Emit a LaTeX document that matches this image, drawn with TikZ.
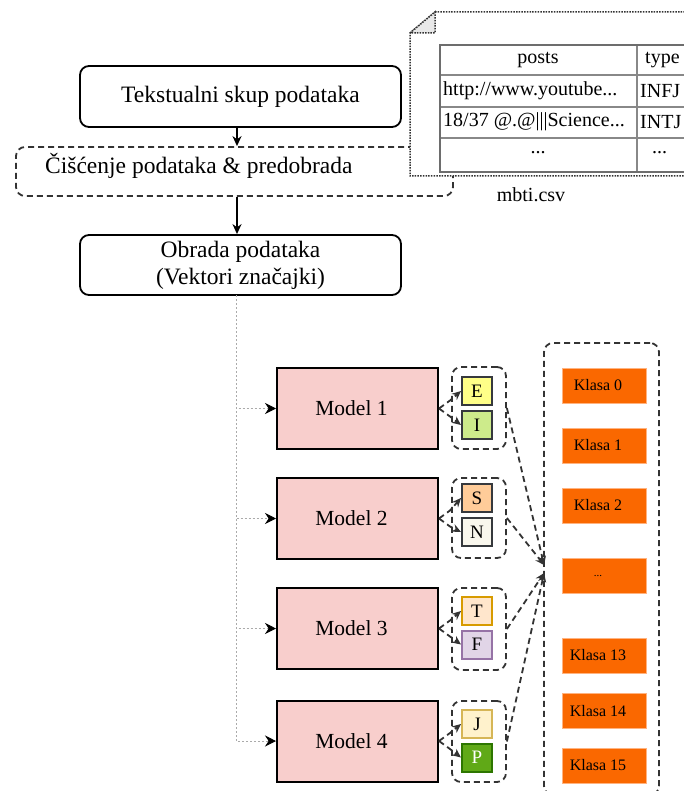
\documentclass[tikz,border=0pt]{standalone}
\usepackage{fontspec}
\setmainfont{Liberation Serif}
\usetikzlibrary{arrows.meta,calc}
\definecolor{modelfill}{HTML}{F8CECC}
\definecolor{dgray}{HTML}{333333}
\definecolor{lgray}{HTML}{AAAAAA}
\definecolor{tblline}{HTML}{888888}
\definecolor{foldgray}{HTML}{E8E8E8}
\definecolor{klasafill}{HTML}{FA6800}
\definecolor{klasaline}{HTML}{FFB380}
\definecolor{cEf}{HTML}{FFFF88}\definecolor{cIf}{HTML}{CDEB8B}
\definecolor{cSf}{HTML}{FFCC99}\definecolor{cNf}{HTML}{F9F7ED}
\definecolor{cTf}{HTML}{FFE6CC}\definecolor{cTd}{HTML}{D79B00}
\definecolor{cFf}{HTML}{E1D5E7}\definecolor{cFd}{HTML}{9673A6}
\definecolor{cJf}{HTML}{FFF2CC}\definecolor{cJd}{HTML}{D6B656}
\definecolor{cPf}{HTML}{60A917}\definecolor{cPd}{HTML}{2D7600}
\definecolor{cdark}{HTML}{36393D}
\begin{document}
\begin{tikzpicture}[x=1pt,y=-1pt,
  topbox/.style={draw, line width=1.8pt, rounded corners=9pt, fill=white, minimum width=321pt, minimum height=61pt, inner sep=0pt, font=\fontsize{23.5}{27}\selectfont, align=center},
  dashbox/.style={draw=dgray, dash pattern=on 6pt off 4pt, line width=1.8pt, rounded corners=9pt, inner sep=0pt},
  modelbox/.style={draw, line width=2pt, fill=modelfill, minimum width=161pt, minimum height=81pt, inner sep=0pt, font=\fontsize{21.5}{26}\selectfont},
  letter/.style={draw, line width=2pt, minimum width=30pt, minimum height=28pt, inner sep=0pt, font=\fontsize{19}{22}\selectfont},
  klasa/.style={fill=klasafill, draw=klasaline, line width=1pt, minimum width=84pt, minimum height=35pt, inner sep=0pt, font=\fontsize{16}{19}\selectfont},
  mainarr/.style={line width=1.8pt, -{Stealth[length=10pt,width=9pt]}},
  dotarr/.style={draw=lgray, line width=1pt, dash pattern=on 2pt off 2pt, -{Stealth[length=11pt,width=11pt,black]}},
  darr/.style={draw=dgray, dash pattern=on 6pt off 4pt, line width=1.8pt, -{Stealth[length=9pt,width=8pt]}},
  tbltext/.style={inner sep=0pt, font=\fontsize{20}{24}\selectfont},
]
\useasboundingbox (0,0) rectangle (684,791);

% top boxes
\node[topbox] (txt) at (240.5,96.5) {Tekstualni skup podataka};
\node[dashbox, minimum width=437pt, minimum height=49pt] (clean) at (234.5,171.5) {};
\node[anchor=west, inner sep=0pt, font=\fontsize{23.5}{27}\selectfont] (cleanlbl) at (45,166) {Čišćenje podataka \& predobrada};
\node[topbox, minimum height=60pt] (obr) at (240.5,265) {Obrada podataka\\(Vektori značajki)};

\draw[mainarr] (txt.south -| 237,0) -- (clean.north -| 237,0);
\draw[mainarr] (clean.south -| 237,0) -- (obr.north -| 237,0);

% note / csv
\path[draw=dgray, line width=1.5pt, dash pattern=on 1.5pt off 1.2pt, fill=white]
  (435,12) -- (700,12) -- (700,176) -- (410,176) -- (410,33) -- cycle;
\path[draw=dgray, line width=1.5pt, dash pattern=on 1.5pt off 1.2pt, fill=foldgray]
  (410,33) -- (435,12) -- (435,33) -- cycle;
\draw[tblline, line width=1.5pt] (440,75) -- (700,75) (440,107) -- (700,107) (440,138) -- (700,138) (637,45) -- (637,172);
\draw[tblline!80!black, line width=2.5pt] (440,45) rectangle (700,172);
\node[tbltext] (hposts) at (538,60) {posts};
\node[tbltext, anchor=west] (htype) at (645,60) {type};
\node[tbltext, anchor=west] (r1a) at (443,91) {http://www.youtube...};
\node[tbltext, anchor=west] (r1b) at (640,91) {INFJ};
\node[tbltext, anchor=west] (r2a) at (443,122) {18/37 @.@|||Science...};
\node[tbltext, anchor=west] (r2b) at (640,122) {INTJ};
\node[tbltext] (r3a) at (538,153) {...};
\node[tbltext, anchor=west] (r3b) at (652,153) {...};
\node[tbltext] (csv) at (531,195) {mbti.csv};

% models
\node[modelbox] (m1) at (357.5,408.5) {\hspace*{-12pt}Model 1};
\node[modelbox] (m2) at (357.5,518.5) {\hspace*{-12pt}Model 2};
\node[modelbox] (m3) at (357.5,628.5) {\hspace*{-12pt}Model 3};
\node[modelbox] (m4) at (357.5,741) {\hspace*{-12pt}Model 4};

\coordinate (trunk) at (236,295);
\draw[dotarr] (trunk) |- (m1.west);
\draw[dotarr] (trunk) |- (m2.west);
\draw[dotarr] (trunk) |- (m3.west);
\draw[dotarr] (trunk) |- (m4.west);

% letter groups
\node[dashbox, minimum width=54pt, minimum height=82pt] (g1) at (479,408) {};
\node[dashbox, minimum width=54pt, minimum height=80pt] (g2) at (479,518) {};
\node[dashbox, minimum width=54pt, minimum height=82pt] (g3) at (479,629) {};
\node[dashbox, minimum width=54pt, minimum height=81pt] (g4) at (479,741.5) {};

\node[letter, draw=cdark, fill=cEf] (E) at (477,391) {E};
\node[letter, draw=cdark, fill=cIf] (I) at (477,425) {I};
\node[letter, draw=cdark, fill=cSf] (S) at (477,498) {S};
\node[letter, draw=cdark, fill=cNf] (N) at (477,532) {N};
\node[letter, draw=cTd, fill=cTf] (T) at (477,611) {T};
\node[letter, draw=cFd, fill=cFf] (F) at (477,644.5) {F};
\node[letter, draw=cJd, fill=cJf] (J) at (477,724) {J};
\node[letter, draw=cPd, fill=cPf, text=white] (P) at (477,757.5) {P};

\foreach \m/\a/\b in {m1/E/I, m2/S/N, m3/T/F, m4/J/P}{
  \draw[darr] (\m.east) -- ++(11,-8) -- (\a.west);
  \draw[darr] (\m.east) -- ++(11,8) -- (\b.west);
}

% classes
\node[dashbox, minimum width=115pt, minimum height=452pt] (cls) at (601.5,569) {};
\node[klasa] (k0) at (604,385.5) {\hspace*{-12pt}Klasa 0};
\node[klasa] (k1) at (604,445.5) {\hspace*{-12pt}Klasa 1};
\node[klasa] (k2) at (604,505.5) {\hspace*{-12pt}Klasa 2};
\node[klasa, font=\fontsize{11}{13}\selectfont] (kd) at (604,575.5) {\hspace*{-12pt}...};
\node[klasa] (k13) at (604,655.5) {\hspace*{-12pt}Klasa 13};
\node[klasa] (k14) at (604,711) {\hspace*{-12pt}Klasa 14};
\node[klasa] (k15) at (604,765.5) {\hspace*{-12pt}Klasa 15};

\draw[darr] (g1.east) -- ($(cls.west)+(1,-4)$);
\draw[darr] (g2.east) -- ($(cls.west)+(1,-4)$);
\draw[darr] (g3.east) -- ($(cls.west)+(1,4)$);
\draw[darr] (g4.east) -- ($(cls.west)+(1,4)$);
\end{tikzpicture}
\end{document}
